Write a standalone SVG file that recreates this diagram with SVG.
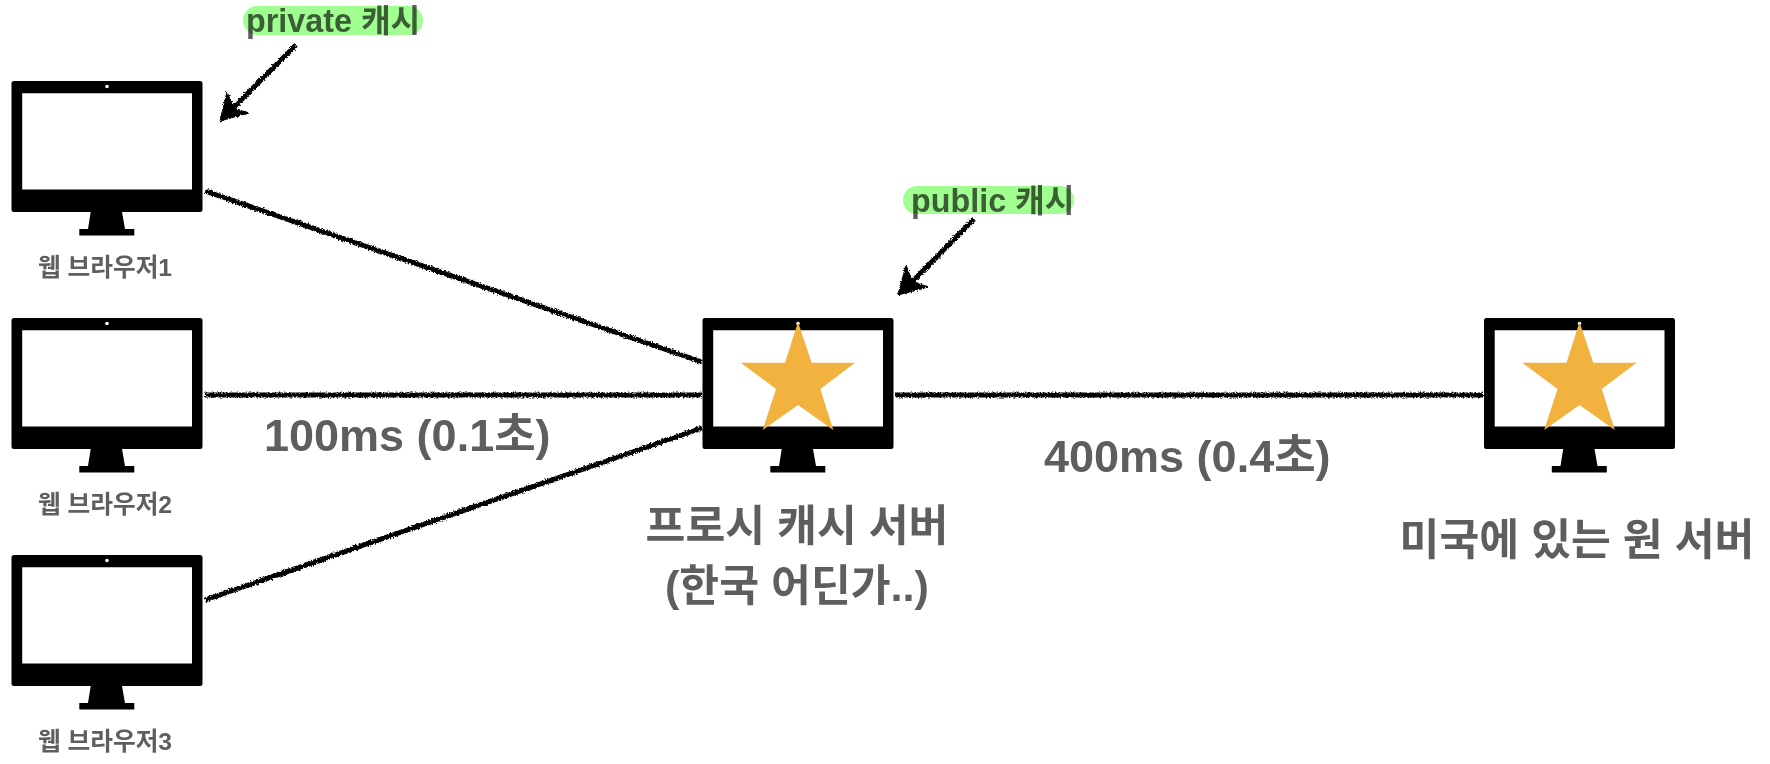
<svg xmlns="http://www.w3.org/2000/svg" xmlns:xlink="http://www.w3.org/1999/xlink" width="1770" height="764" viewBox="0 0 1770 764">
<style>
text{font-family:"Liberation Sans","Noto Sans CJK KR",sans-serif;font-weight:700;fill:#5e5e5e}
.s{font-size:24.700px;text-anchor:middle}
.l{font-size:45px}
.c{font-size:43.300px;text-anchor:middle}
.h{font-size:32.300px;mix-blend-mode:multiply}
.pill{fill:#a0ff90}
.star{fill:#f2b23f}
.wire{fill:none;stroke:#000;stroke-width:5;filter:url(#rough)}
.head{fill:#000;stroke:#000;stroke-width:1;filter:url(#rough)}
</style>
<defs>
<filter id="rough" filterUnits="userSpaceOnUse" x="0" y="0" width="1770" height="764">
<feTurbulence type="fractalNoise" baseFrequency="0.6" numOctaves="2" seed="4"/>
<feDisplacementMap in="SourceGraphic" scale="4" xChannelSelector="R" yChannelSelector="G"/>
</filter>
<g id="monitor">
<path fill-rule="evenodd" d="M14,81H200a2.500,2.500 0 0 1 2.500,2.500V209.500a2.500,2.500 0 0 1 -2.500,2.500H14a2.500,2.500 0 0 1 -2.500,-2.500V83.500a2.500,2.500 0 0 1 2.500,-2.500ZM22.200,93.200V189.500H192V93.200Z"/>
<path d="M90.700,212H122L125,229H134.300V235.500H79.300V229H88Z"/>
<circle cx="107" cy="86.500" r="1.800" fill="#fff"/>
</g>
</defs>
<rect width="1770" height="764" fill="#fff"/>
<g id="connectors">
<path class="wire" d="M205,191L702,362"/>
<path class="wire" d="M205,395H702"/>
<path class="wire" d="M205,600L702,428"/>
<path class="wire" d="M895,395H1483"/>
<path class="wire" d="M296,45L228,113"/>
<path class="head" d="M220,121L227,92L234,108L249,113Z"/>
<path class="wire" d="M974,219L906,288"/>
<path class="head" d="M898,295L906,265L912,281L928,287Z"/>
</g>
<g id="browser1"><use xlink:href="#monitor" href="#monitor"/><text class="s" x="105" y="276">웹 브라우저1</text></g>
<g id="browser2"><use xlink:href="#monitor" href="#monitor" y="237"/><text class="s" x="105" y="513">웹 브라우저2</text></g>
<g id="browser3"><use xlink:href="#monitor" href="#monitor" y="474"/><text class="s" x="105" y="750">웹 브라우저3</text></g>
<g id="proxy"><use xlink:href="#monitor" href="#monitor" x="691" y="237"/>
<path class="star" d="M798,322L811.700,362.700H855L820.300,389L833.300,430L798,405L762.700,430L776,389L740.700,362.700H785Z"/>
<text class="c" x="797" y="541">프로시 캐시 서버</text><text class="c" x="797" y="601">(한국 어딘가..)</text></g>
<g id="origin"><use xlink:href="#monitor" href="#monitor" x="1472.500" y="237"/>
<path class="star" d="M1579.500,322L1593.200,362.700H1636.500L1601.800,389L1614.800,430L1579.500,405L1544.200,430L1557.500,389L1522.200,362.700H1566.500Z"/>
<text class="c" x="1577" y="555">미국에 있는 원 서버</text></g>
<g id="latency1"><text class="l" x="264" y="451">100ms (0.1초)</text></g>
<g id="latency2"><text class="l" x="1044" y="472">400ms (0.4초)</text></g>
<g id="private-cache"><rect class="pill" x="243" y="6" width="180" height="29" rx="14.500"/><text class="h" x="246" y="32">private 캐시</text></g>
<g id="public-cache"><rect class="pill" x="903" y="186" width="171" height="28" rx="14"/><text class="h" x="911" y="212">public 캐시</text></g>
</svg>
